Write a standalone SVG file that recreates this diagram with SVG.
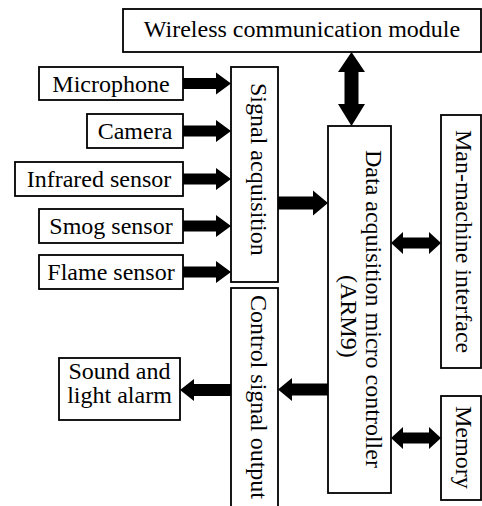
<svg xmlns="http://www.w3.org/2000/svg" width="482" height="506" viewBox="0 0 482 506">
<style>
.box{fill:#fff;stroke:#000;stroke-width:1.8}
.t{font-size:24px;fill:#000}
.c{text-anchor:middle}
.arr{fill:#000;stroke:none}
</style>
<rect width="482" height="506" fill="#fff"/>
<g font-family="'Liberation Serif', 'Times New Roman', serif">
<g id="wireless">
<rect class="box" x="123" y="9" width="358" height="43"/>
<text class="t c" x="302" y="37">Wireless communication module</text>
</g>
<g id="microphone">
<rect class="box" x="39" y="67" width="144" height="33"/>
<text class="t c" x="111" y="91.5">Microphone</text>
</g>
<g id="camera">
<rect class="box" x="87" y="114" width="96" height="34"/>
<text class="t c" x="135" y="139">Camera</text>
</g>
<g id="infrared">
<rect class="box" x="15" y="162" width="168" height="34"/>
<text class="t c" x="99" y="187">Infrared sensor</text>
</g>
<g id="smog">
<rect class="box" x="39" y="209" width="144" height="34"/>
<text class="t c" x="111" y="234">Smog sensor</text>
</g>
<g id="flame">
<rect class="box" x="39" y="255" width="144" height="34"/>
<text class="t c" x="111" y="280">Flame sensor</text>
</g>
<g id="signal-acquisition">
<rect class="box" x="231" y="67" width="47" height="215"/>
<text class="t" transform="translate(250.5,83) rotate(90)">Signal acquisition</text>
</g>
<g id="control-signal-output">
<rect class="box" x="231" y="288" width="47" height="225"/>
<text class="t" transform="translate(250.5,295) rotate(90)">Control signal output</text>
</g>
<g id="controller">
<rect class="box" x="328" y="126" width="63" height="367"/>
<text class="t" transform="translate(365.5,150) rotate(90)">Data acquisition micro controller</text>
<text class="t" transform="translate(340.5,275) rotate(90)">(ARM9)</text>
</g>
<g id="man-machine">
<rect class="box" x="441" y="115" width="40" height="253"/>
<text class="t" transform="translate(456,130) rotate(90)">Man-machine interface</text>
</g>
<g id="memory">
<rect class="box" x="441" y="396" width="40" height="104"/>
<text class="t" transform="translate(456,406) rotate(90)">Memory</text>
</g>
<g id="alarm">
<rect class="box" x="59" y="358" width="121" height="62"/>
<text class="t c" x="119.5" y="379" font-size="23">Sound and</text>
<text class="t c" x="119.5" y="402.5" font-size="23">light alarm</text>
</g>
</g>
<g id="connectors">
<polygon class="arr" points="183,78 216,78 216,72.5 231,83.5 216,94.5 216,89 183,89"/>
<polygon class="arr" points="183,125.5 216,125.5 216,120 231,131 216,142 216,136.5 183,136.5"/>
<polygon class="arr" points="183,173.5 216,173.5 216,168 231,179 216,190 216,184.5 183,184.5"/>
<polygon class="arr" points="183,220.5 216,220.5 216,215 231,226 216,237 216,231.5 183,231.5"/>
<polygon class="arr" points="183,266.5 216,266.5 216,261 231,272 216,283 216,277.5 183,277.5"/>
<polygon class="arr" points="278,196.5 313,196.5 313,190.5 328,203 313,215.5 313,209.5 278,209.5"/>
<polygon class="arr" points="351.5,52 365,72 358.5,72 358.5,104 365,104 351.5,126 338,104 344.5,104 344.5,72 338,72"/>
<polygon class="arr" points="391,243 403,232 403,237.5 429,237.5 429,232 441,243 429,254 429,248.5 403,248.5 403,254"/>
<polygon class="arr" points="391,438 403,427 403,432.5 429,432.5 429,427 441,438 429,449 429,443.5 403,443.5 403,449"/>
<polygon class="arr" points="328,383.5 292,383.5 292,378 278,389.5 292,401 292,395.5 328,395.5"/>
<polygon class="arr" points="231,384 194,384 194,379 180,390 194,401 194,396 231,396"/>
</g>
</svg>
